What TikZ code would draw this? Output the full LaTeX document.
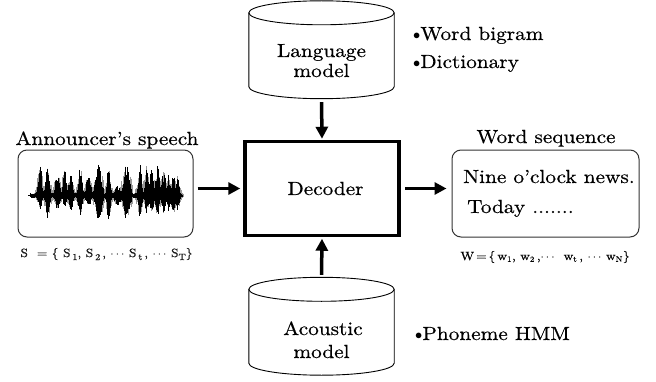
\documentclass[tikz,border=0pt]{standalone}
\usepackage{fontspec}
\setmainfont{lmroman10-regular.otf}[FakeStretch=1.12,FakeBold=0.5,BoldFont=lmroman10-bold.otf,ItalicFont=lmroman10-italic.otf]
\usetikzlibrary{arrows.meta,calc}

\tikzset{
  txt/.style={font=\fontsize{19}{22}\selectfont,inner sep=0pt},
  frm/.style={font=\fontsize{12}{13}\selectfont,inner sep=0pt},
  decbox/.style={draw,line width=3.5pt,minimum width=154pt,minimum height=94pt,inner sep=0pt,font=\fontsize{19}{22}\selectfont},
  roundbox/.style={draw=black!80,line width=1pt,rounded corners=9pt,inner sep=0pt},
  cylzone/.style={minimum width=145pt,minimum height=97.5pt,inner sep=0pt},
  cyl/.style={draw=black,line width=0.9pt,fill=white},
  arr/.style={line width=3.5pt,-{Triangle[length=12pt,width=12pt]}},
  wavegray/.style={draw=black!40,line width=0.5pt},
  waveblack/.style={draw=black,line width=0.55pt},
}

% cylinder drawn around a named node: #1 node, #2 half axis of the ellipses (pt)
\newcommand{\drawcyl}[2]{%
  \path let \p1=(#1.north west), \p2=(#1.south east) in
    coordinate (#1-a) at (\x1,\y1-#2) coordinate (#1-b) at (\x1,\y2+#2)
    coordinate (#1-c) at (\x2,\y2+#2) coordinate (#1-d) at (\x2,\y1-#2);
  \path let \p1=(#1.west), \p2=(#1.east), \n1={(\x2-\x1)/2} in
    [cyl] (#1-a) -- (#1-b) arc[start angle=180,end angle=360,x radius=\n1,y radius=#2pt]
    -- (#1-d) arc[start angle=0,end angle=180,x radius=\n1,y radius=#2pt] -- cycle;
  \path let \p1=(#1.west), \p2=(#1.east), \n1={(\x2-\x1)/2} in
    [draw=black,line width=0.9pt] (#1-a) arc[start angle=180,end angle=360,x radius=\n1,y radius=#2pt];
}

\newcommand{\lowsub}[1]{\raisebox{-3pt}{\fontsize{9}{9}\selectfont #1}}
\newcommand{\dotmark}{\raisebox{0.5pt}{\fontsize{15}{15}\selectfont$\bullet$}}

% syllable bursts of the waveform: centre / height above / depth below / spread
\def\bursts{
  40/30.7/12.7/1.6, 47.7/31.3/22.7/1.6, 57.3/24/12.7/2.0, 64.3/27.3/9.3/1.6,
  70.7/22.3/16/1.6, 80/29/22.7/1.6, 88.3/22.3/9.3/2.0, 98.3/32.3/24.3/2.6,
  108.3/30.7/26/1.4, 117.7/9/9.3/2.5, 126.7/32.3/26/2.6, 140/30.7/21/1.6,
  146.7/34/19.3/1.4, 151.7/27.3/17.7/1.6, 157.7/34/21/1.6, 163.3/27.3/17.7/1.6,
  168.3/20.7/14.3/1.4, 173.3/22.3/19.3/1.6, 177.7/20.7/16/1.4}

\begin{document}
\begin{tikzpicture}[x=1pt,y=1pt]
\useasboundingbox (0,0) rectangle (656,381);

% decoder in the middle
\node[decbox] (dec) at (322,192.5) {\hspace*{7pt}Decoder};

% language model store (top) and acoustic model store (bottom)
\node[cylzone] (lm) at (321.5,331.25) {};
\drawcyl{lm}{12}
\node[txt,anchor=base] (lmt1) at (321.5,324) {Language};
\node[txt,anchor=base] (lmt2) at (321.5,304) {model};

\node[cylzone] (am) at (321.5,54.75) {};
\drawcyl{am}{12}
\node[txt,anchor=base] (amt1) at (323,46) {Acoustic};
\node[txt,anchor=base] (amt2) at (321.5,23) {model};

% input and output panels
\node[roundbox,minimum width=175pt,minimum height=87pt] (lb) at (105.5,187.5) {};
\node[roundbox,minimum width=187pt,minimum height=87pt] (rb) at (545.5,187.5) {};

\node[txt,anchor=base] (lbt) at (107,236) {Announcer's speech};
\node[txt,anchor=base] (rbt) at (546,238) {Word sequence};

\node[txt,anchor=base west] (out1) at (463,198) {Nine o'clock news.};
\node[txt,anchor=base west] (out2) at (467,168) {Today .......};

% symbol sequences under the panels
\node[frm,anchor=base,text=black!90] (sseq) at (106.5,124)
  {S\ \ =\ \{\ S\,\lowsub{1}, S\,\lowsub{2}\,,\ $\cdots$\ S\,\lowsub{t}\,,\ $\cdots$\ S\lowsub{T}\}};
\node[frm,anchor=base] (wseq) at (545,121)
  {W\,=\,\{\,w\textsubscript{1}, w\textsubscript{2}\,,$\cdots$\ \ w\textsubscript{t}\,, $\cdots$ w\textsubscript{N}\}};

% knowledge sources
\node[txt,anchor=base west] (kb1) at (413,341) {\dotmark Word bigram};
\node[txt,anchor=base west] (kb2) at (413,313) {\dotmark Dictionary};
\node[txt,anchor=base west] (kb3) at (415,41) {\dotmark Phoneme HMM};

% connectors
\draw[arr,shorten <=4pt,shorten >=3pt] (lb.east |- dec.west) -- (dec.west);
\draw[arr,shorten <=4.5pt,shorten >=5pt] (dec.east) -- (rb.west |- dec.east);
\draw[arr,shorten <=3.5pt,shorten >=1pt] (lm.south) -- (dec.north);
\draw[arr,shorten <=2.5pt,shorten >=1.5pt] (am.north) -- (dec.south);

% speech waveform: grey halo, low-level noise, then dark spikes
\pgfmathsetseed{2718}
\def\wy{185.3}
\foreach \c/\u/\d/\w in \bursts {
  \foreach \k in {-6,-5.5,...,6}{
    \pgfmathsetmacro\xx{\c+\k}
    \pgfmathsetmacro\env{exp(-(\k*\k)/(2*1.6*1.6*\w*\w))}
    \pgfmathsetmacro\ru{1+0.9*\u*\env*(0.3+0.7*rnd)}
    \pgfmathsetmacro\rd{1+0.9*\d*\env*(0.3+0.7*rnd)}
    \draw[wavegray] (\xx,\wy+\ru) -- (\xx,\wy-\rd);
  }
}
\draw[black,line width=0.8pt] (28,\wy) -- (183,\wy);
\foreach \x in {30,30.5,...,181}{
  \pgfmathsetmacro\ru{1+1.8*rnd}
  \pgfmathsetmacro\rd{1+1.8*rnd}
  \draw[waveblack] (\x,\wy+\ru) -- (\x,\wy-\rd);
}
\foreach \c/\u/\d/\w in \bursts {
  \foreach \k in {-5,-4.5,...,5}{
    \pgfmathsetmacro\xx{\c+\k}
    \pgfmathsetmacro\env{exp(-(\k*\k)/(2*\w*\w))}
    \pgfmathsetmacro\ru{1+\u*\env*(0.45+0.55*rnd)}
    \pgfmathsetmacro\rd{1+\d*\env*(0.45+0.55*rnd)}
    \draw[waveblack] (\xx,\wy+\ru) -- (\xx,\wy-\rd);
  }
}
\end{tikzpicture}
\end{document}
